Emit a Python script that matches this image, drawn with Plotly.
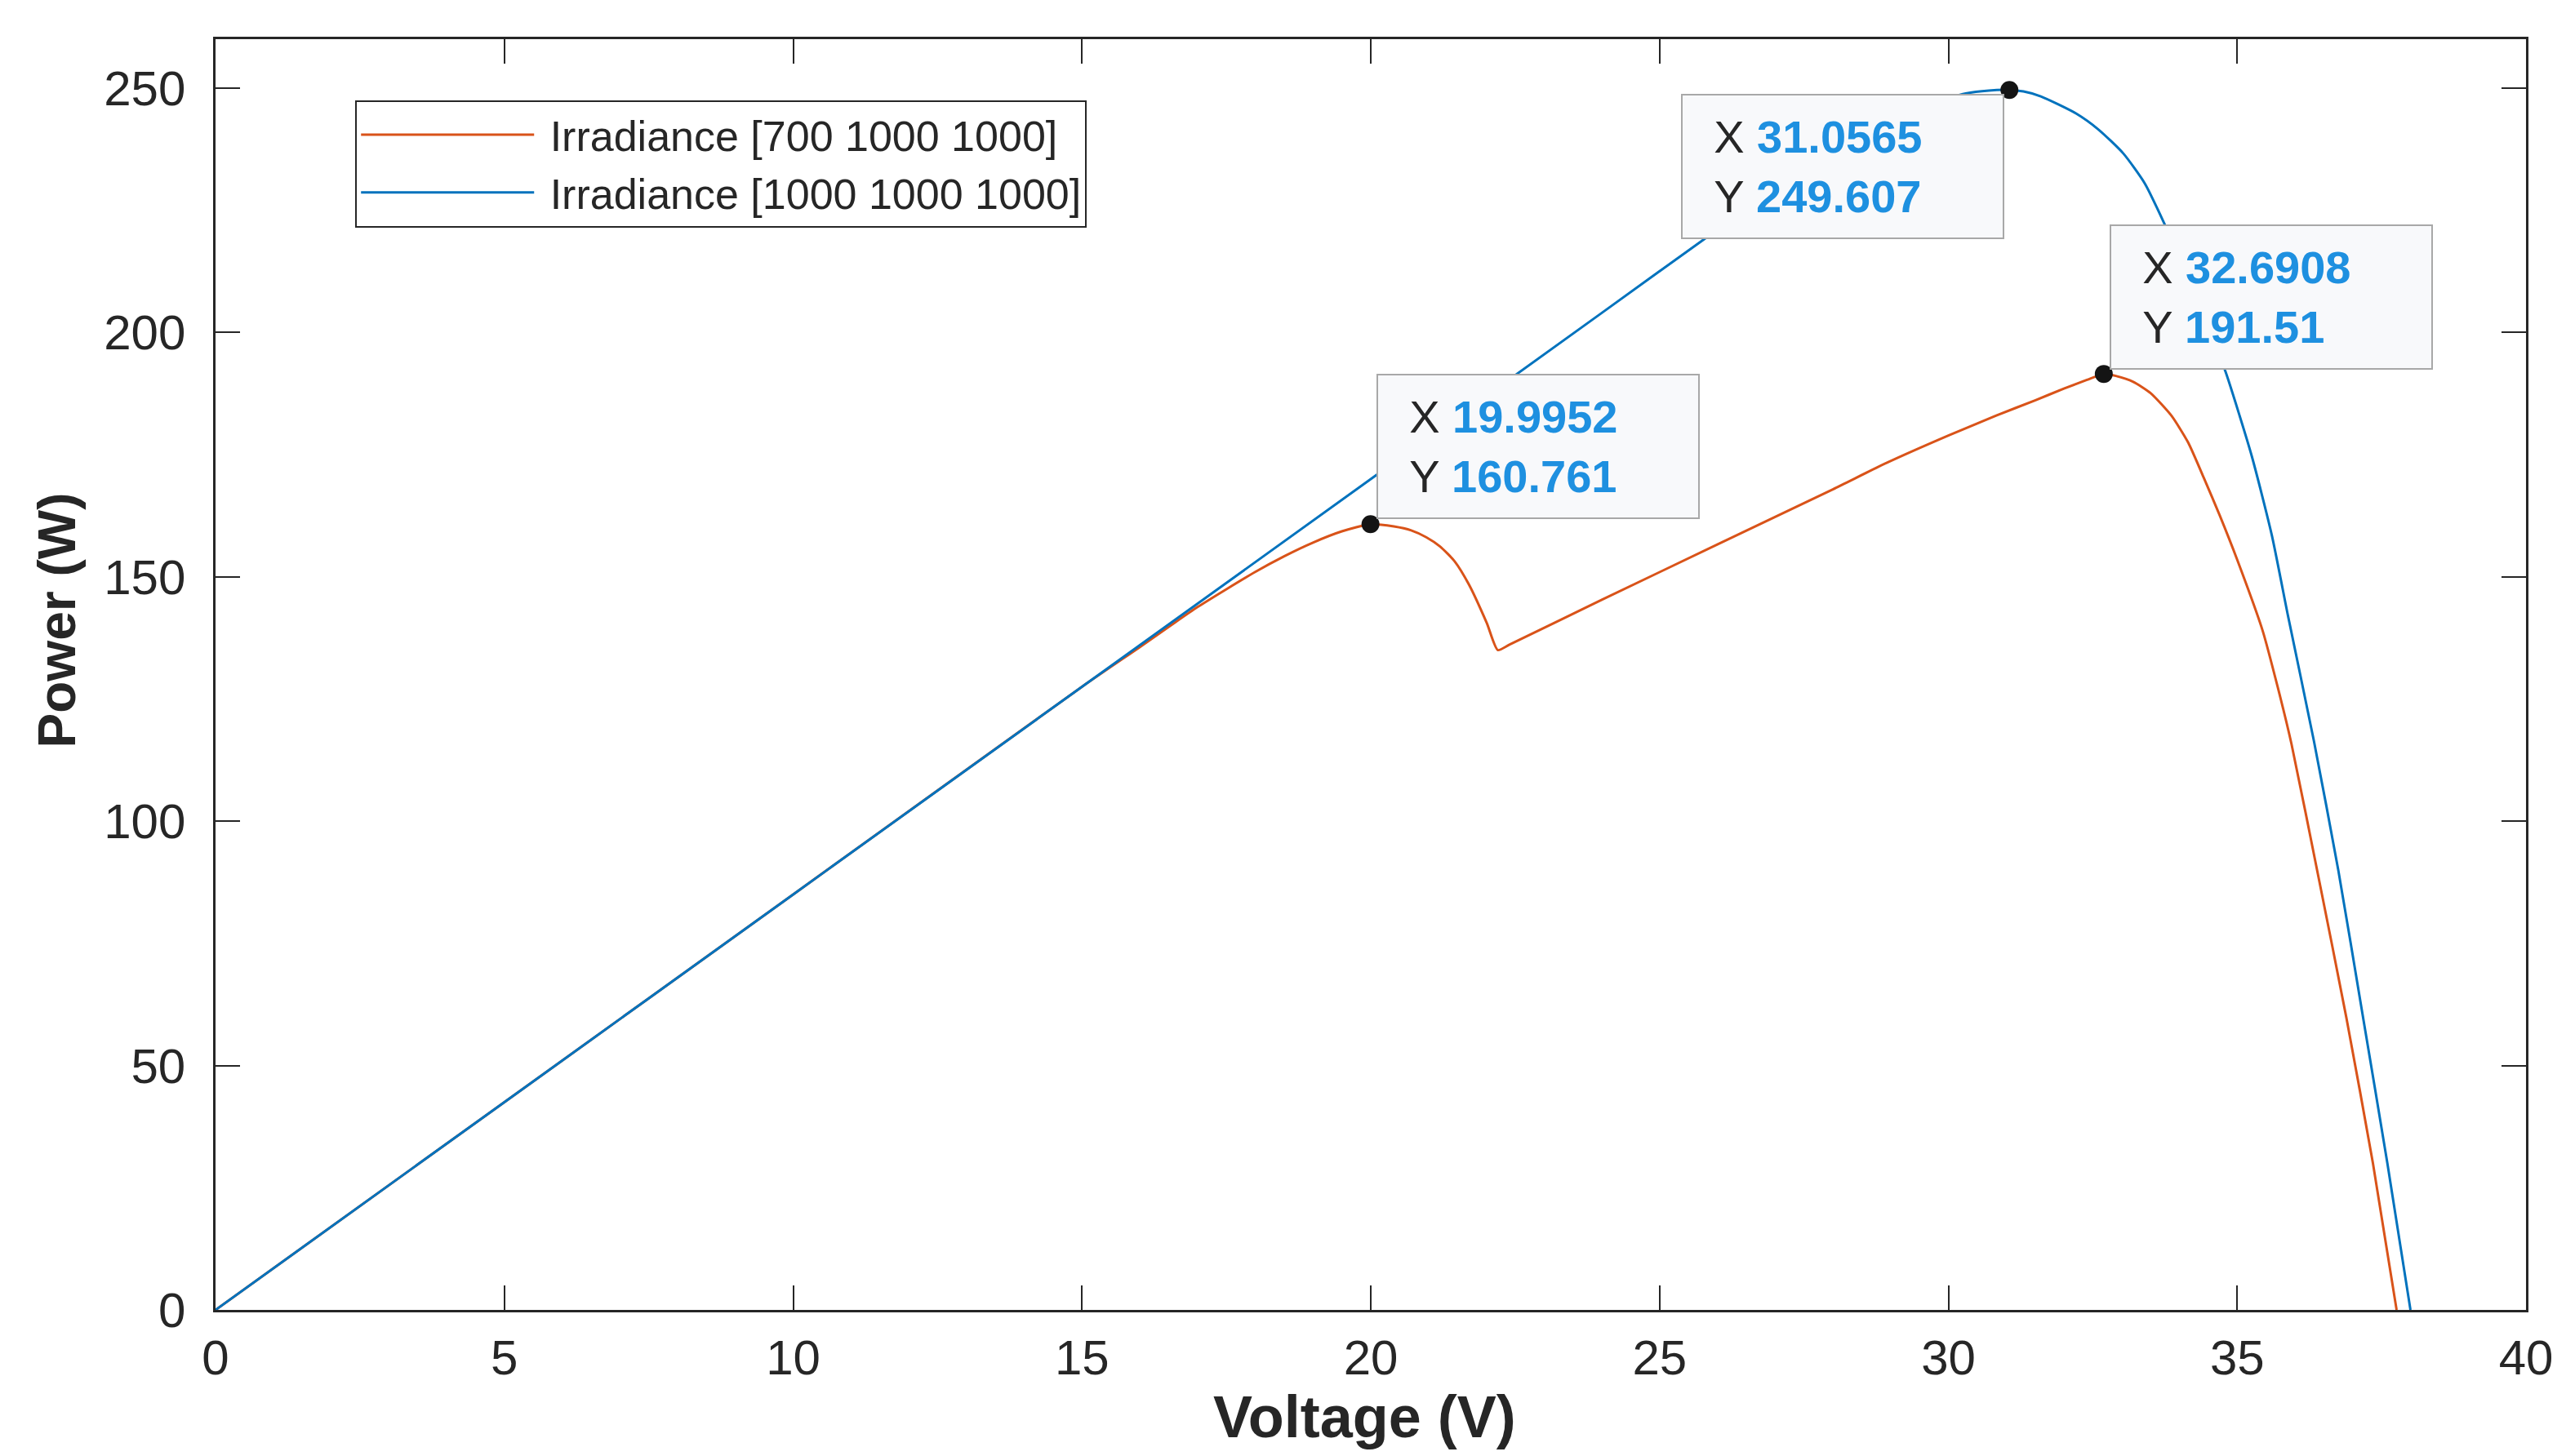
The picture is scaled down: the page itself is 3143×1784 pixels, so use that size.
import plotly.graph_objects as go

# ---- data ----
v_uniform = [0, 5, 10, 15, 20, 24, 26, 27, 28, 29, 29.7, 30.3, 30.7, 31.0565,
             31.3, 31.6, 32.21, 32.6, 33.03, 33.4, 33.73, 34.1, 34.5, 34.8,
             35.25, 35.6, 35.88, 36.33, 36.75, 37.17, 37.6, 38.0]
p_uniform = [0, 42.5, 85, 127.5, 170, 204, 221, 229, 236.5, 243, 246.8, 248.9, 249.5, 249.607,
             249.3, 248.3, 244.8, 241.5, 236.6, 230.5, 222.5, 212.5, 201, 191.9,
             174.8, 158.5, 142, 116.3, 90, 60.5, 30, 0]

v_shaded = [0, 5, 10, 15, 16, 17, 18, 18.5, 19, 19.5, 19.9952, 20.4, 20.7, 20.96,
            21.2, 21.45, 21.7, 22.01, 22.2, 22.4, 24, 26, 28, 28.93, 30, 30.83, 31.5, 32.0,
            32.4, 32.6908, 32.9, 33.2, 33.5, 33.86, 34.15, 34.42, 34.7, 35.0,
            35.44, 35.7, 35.94, 36.4, 36.89, 37.35, 37.76]
p_shaded = [0, 42.5, 85, 127.5, 135.6, 143.8, 151.0, 154.2, 157.0, 159.3, 160.761, 160.3, 159.5, 158.1,
            156.2, 153.2, 148.4, 140.5, 135.0, 136.1, 145.3, 156.6, 167.9, 173.3, 178.9, 183.0, 186.1, 188.5,
            190.3, 191.51, 191.1, 189.9, 187.6, 183.0, 177.5, 170.3, 162.5, 153.5,
            139.0, 127.5, 115.8, 89.0, 59.8, 30.0, 0]

series_names = ["Irradiance [700 1000 1000]", "Irradiance [1000 1000 1000]"]

tip_x = [19.9952, 31.0565, 32.6908]
tip_y = [160.761, 249.607, 191.51]

x_ticks = [0, 5, 10, 15, 20, 25, 30, 35, 40]
y_ticks = [0, 50, 100, 150, 200, 250]

x_title = "Voltage (V)"
y_title = "Power (W)"

# ---- styling ----
FONT = "Liberation Sans, Arial, Helvetica, sans-serif"
AX = "#262626"
ORANGE = "#D95319"
BLUE = "#0072BD"
TIPVAL = "#1E90E0"

fig = go.Figure()
fig.add_trace(go.Scatter(x=v_shaded, y=p_shaded, mode="lines", name="\u00a0" + series_names[0],
                         line=dict(color=ORANGE, width=3, shape="spline", smoothing=0.6)))
fig.add_trace(go.Scatter(x=v_uniform, y=p_uniform, mode="lines", name="\u00a0" + series_names[1],
                         line=dict(color=BLUE, width=3, shape="spline", smoothing=0.6)))
fig.add_trace(go.Scatter(x=tip_x, y=tip_y, mode="markers", showlegend=False,
                         marker=dict(color="#141414", size=22)))

# datatip placements (anchor corner relative to point)
tip_anchor = [("left", "bottom", 7, 6), ("right", "top", -6, -5), ("left", "bottom", 7, 5)]
for xv, yv, (xa, ya, xs, ys) in zip(tip_x, tip_y, tip_anchor):
    txt = (f"&nbsp;&nbsp;<span style='color:{AX}'>X</span> "
           f"<span style='color:{TIPVAL}'><b>{xv:g}</b></span><br>"
           f"&nbsp;&nbsp;<span style='color:{AX}'>Y</span> "
           f"<span style='color:{TIPVAL}'><b>{yv:g}</b></span>")
    fig.add_annotation(x=xv, y=yv, xref="x", yref="y", text=txt, showarrow=False,
                       xanchor=xa, yanchor=ya, xshift=xs, yshift=ys,
                       align="left", valign="middle",
                       width=378, height=160, borderpad=7, borderwidth=2,
                       bordercolor="#A8A8A8", bgcolor="#F8F9FB",
                       font=dict(family=FONT, size=56, color=AX))

# axis titles (placed like the reference, y title sits above the axis centre)
fig.add_annotation(text=f"<b>{x_title}</b>", xref="paper", yref="paper", x=0.4975, y=-0.084,
                   xanchor="center", yanchor="middle", showarrow=False,
                   font=dict(family=FONT, size=72, color=AX))
fig.add_annotation(text=f"<b>{y_title}</b>", xref="paper", yref="paper", x=-0.0686, y=0.543,
                   xanchor="center", yanchor="middle", showarrow=False, textangle=-90,
                   font=dict(family=FONT, size=64, color=AX))

fig.update_layout(
    width=3143, height=1784,
    margin=dict(l=256, r=57, t=40, b=187),
    paper_bgcolor="white", plot_bgcolor="white",
    font=dict(family=FONT, color=AX),
    showlegend=True,
    legend=dict(x=0.0605, y=0.952, xanchor="left", yanchor="top",
                bgcolor="white", bordercolor=AX, borderwidth=2,
                font=dict(family=FONT, size=52, color=AX),
                itemwidth=212, tracegroupgap=0,
                entrywidth=780, entrywidthmode="pixels"),
)
fig.update_xaxes(range=[0, 40], tickvals=x_ticks, ticks="inside", ticklen=30, tickwidth=2,
                 tickcolor=AX, showline=True, linecolor=AX, linewidth=2.5, mirror="ticks",
                 showgrid=False, zeroline=False,
                 tickfont=dict(family=FONT, size=60, color=AX), ticklabelstandoff=4)
fig.update_yaxes(range=[0, 260], tickvals=y_ticks, ticks="inside", ticklen=30, tickwidth=2,
                 tickcolor=AX, showline=True, linecolor=AX, linewidth=2.5, mirror="ticks",
                 showgrid=False, zeroline=False,
                 tickfont=dict(family=FONT, size=60, color=AX), ticklabelstandoff=22)

fig.write_html("out.html")
